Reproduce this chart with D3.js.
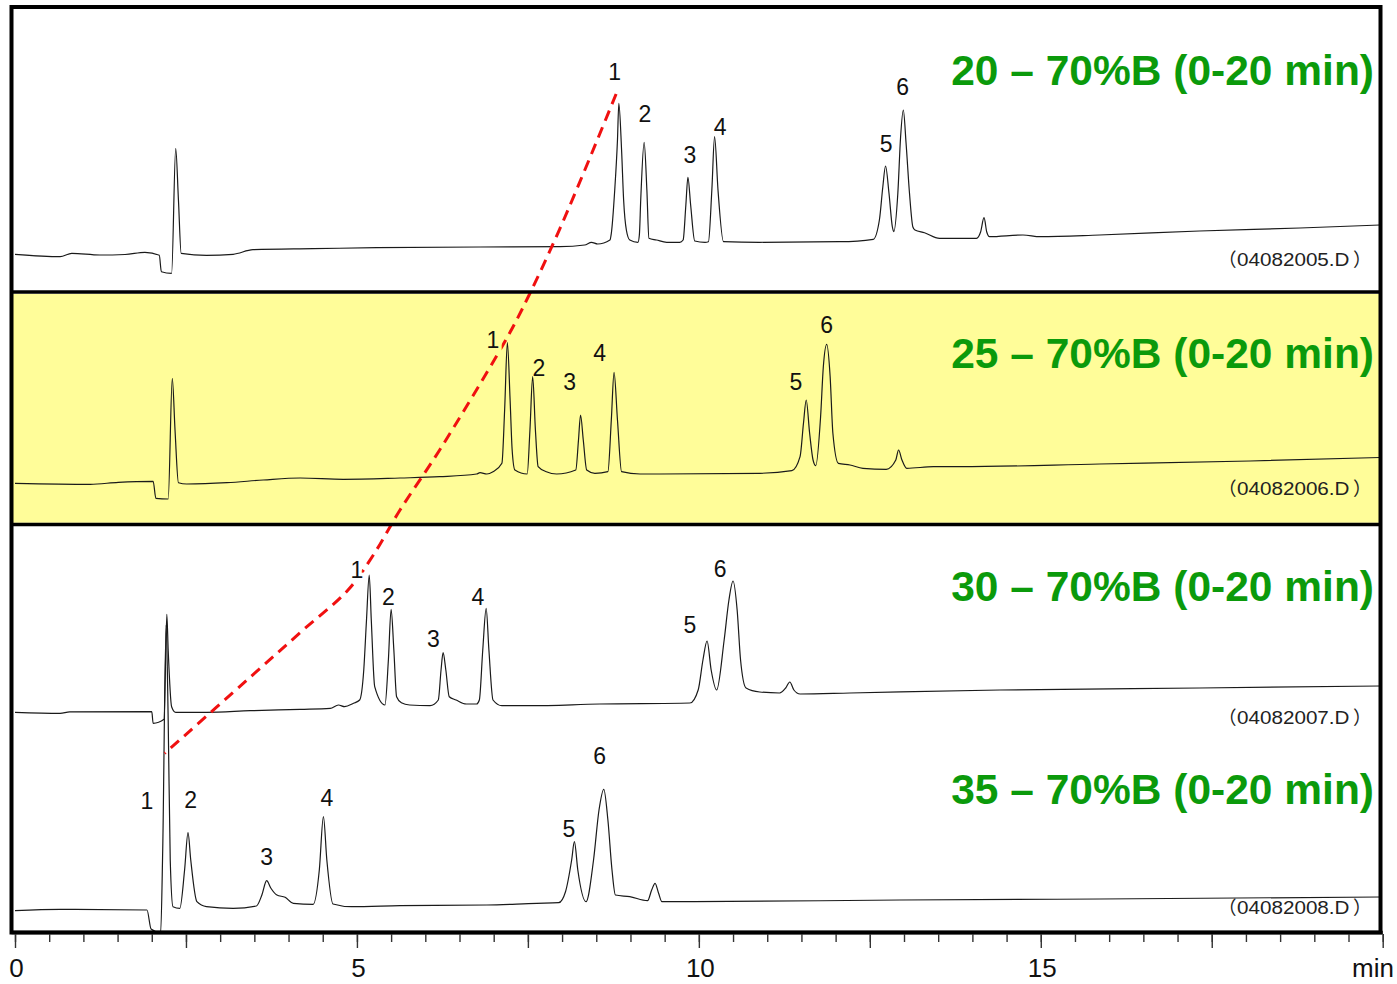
<!DOCTYPE html>
<html>
<head>
<meta charset="utf-8">
<script src="https://cdn.jsdelivr.net/npm/d3@7"></script>
<style>
  html, body { margin: 0; padding: 0; background: #fff; }
  svg { display: block; }
</style>
</head>
<body>
<svg id="chart" width="1397" height="984"></svg>
<script>
// ---- Data: four gradient runs, time (min) vs detector response ----
const gradients = ["20 – 70%B (0-20 min)", "25 – 70%B (0-20 min)", "30 – 70%B (0-20 min)", "35 – 70%B (0-20 min)"];
const dataFiles = ["（04082005.D）", "（04082006.D）", "（04082007.D）", "（04082008.D）"];

const run05 = [
  [0.00, 0.7], [0.66, -1.7], [0.83, 1.7], [1.24, 0], [1.61, 0.5], [1.90, 2.7], [2.11, -0.3],
  [2.14, -16.7], [2.29, -18.3], [2.35, 106.7], [2.39, 55], [2.43, 1.7], [2.80, -0.3], [3.19, 0.7],
  [3.48, 5.3], [4.36, 6.3], [5.29, 7.3], [6.80, 8], [7.97, 8.3], [8.33, 10], [8.43, 12.7], [8.52, 11],
  [8.70, 15], [8.72, 21.7], [8.77, 65], [8.81, 115], [8.83, 151.7], [8.87, 105], [8.90, 55], [8.94, 25],
  [8.99, 15], [9.11, 12.7], [9.13, 20], [9.15, 55], [9.20, 112.7], [9.24, 65], [9.27, 16.7], [9.38, 15],
  [9.53, 12.7], [9.72, 12.7], [9.77, 15], [9.81, 50], [9.84, 77.7], [9.88, 50], [9.94, 14], [10.09, 12.7],
  [10.14, 13.3], [10.19, 65], [10.23, 118.3], [10.28, 65], [10.36, 13.3], [10.89, 12.7], [12.06, 13.3],
  [12.55, 15.7], [12.64, 35], [12.69, 68], [12.73, 89], [12.78, 62], [12.83, 28], [12.85, 23.3],
  [12.91, 62], [12.95, 118], [12.99, 145], [13.03, 112], [13.08, 62], [13.13, 28], [13.16, 25],
  [13.30, 22.3], [13.52, 16.7], [14.06, 16.7], [14.12, 23], [14.17, 37.3], [14.21, 23], [14.25, 18.3],
  [14.74, 20], [14.99, 18.3], [15.86, 20], [17.32, 24], [18.79, 27], [19.96, 30]
];

const run06 = [
  [0.00, -0.3], [1.10, -1.3], [1.51, 0.7], [2.02, 1.7], [2.06, -15.3], [2.24, -16], [2.30, 104.7],
  [2.34, 53], [2.39, 0.3], [2.51, -1], [3.10, 0.3], [3.63, 3], [4.17, 5], [4.80, 3.7], [5.63, 5],
  [6.21, 6.3], [6.75, 9], [6.80, 10.3], [6.90, 9], [6.99, 11.3], [7.12, 19.7], [7.16, 73], [7.20, 140.3],
  [7.24, 83], [7.27, 33], [7.31, 13], [7.49, 9], [7.53, 53], [7.57, 106.3], [7.61, 53], [7.65, 16.3],
  [7.77, 11.3], [7.92, 9], [8.20, 13], [8.24, 43], [8.27, 68], [8.31, 43], [8.36, 13], [8.48, 9.7],
  [8.67, 11.3], [8.72, 63], [8.76, 110.7], [8.81, 63], [8.87, 11.3], [9.14, 9], [9.43, 9], [10.89, 9.7],
  [11.36, 12.3], [11.48, 26.3], [11.53, 59.7], [11.57, 83], [11.62, 49.7], [11.67, 23], [11.71, 17.3],
  [11.78, 66], [11.82, 116], [11.87, 138.7], [11.92, 106.3], [11.96, 49.7], [12.04, 19.7], [12.21, 18],
  [12.40, 14.7], [12.74, 13.7], [12.88, 23], [12.92, 33], [12.97, 23], [13.04, 14.7], [13.43, 16.3],
  [13.82, 16.3], [15.86, 19], [18.06, 22], [19.96, 25.5]
];

const run07 = [
  [0.00, -0.3], [0.66, -1.3], [0.80, 0.1], [2.00, 0.3], [2.02, -11.3], [2.18, -7.3], [2.22, 97.7],
  [2.24, 62], [2.29, 5.3], [2.35, -0.3], [2.80, -0.3], [3.44, 1.3], [4.17, 2.7], [4.61, 3.7], [4.73, 7],
  [4.82, 5.3], [4.95, 8.7], [5.04, 12], [5.10, 42], [5.14, 92], [5.18, 137], [5.21, 92], [5.26, 25.3],
  [5.41, 7], [5.46, 52], [5.50, 102.7], [5.54, 62], [5.58, 15.3], [5.65, 9.3], [5.77, 7], [6.07, 6.3],
  [6.19, 12], [6.23, 42], [6.26, 59.3], [6.30, 42], [6.35, 15.3], [6.45, 12], [6.60, 8], [6.75, 8],
  [6.79, 12], [6.84, 62], [6.89, 103.7], [6.93, 62], [6.99, 12], [7.12, 6.3], [7.53, 6.3], [8.55, 8],
  [9.87, 9], [9.99, 22], [10.06, 52], [10.12, 71], [10.18, 42], [10.26, 22], [10.37, 72], [10.44, 112],
  [10.50, 131], [10.56, 102], [10.61, 52], [10.69, 24], [10.89, 20], [11.18, 19], [11.27, 24],
  [11.33, 30], [11.39, 22], [11.48, 18], [12.21, 19], [14.40, 22], [17.32, 24], [19.96, 26]
];

const run08 = [
  [0.00, -0.7], [0.66, 0.7], [1.93, 0], [1.99, -19], [2.13, -22.7], [2.16, 60], [2.21, 285], [2.24, 190],
  [2.27, 50], [2.31, 3.3], [2.41, 1.7], [2.48, 40], [2.53, 77.3], [2.57, 50], [2.66, 8.3], [2.80, 3.3],
  [3.19, 1.7], [3.53, 4], [3.61, 15], [3.68, 29.3], [3.74, 22], [3.83, 15], [3.95, 12.7], [4.07, 6.7],
  [4.36, 5.7], [4.45, 40], [4.51, 93.3], [4.56, 50], [4.65, 6], [4.92, 3.3], [5.63, 4.3], [6.90, 5],
  [7.63, 6.7], [7.95, 7.3], [8.05, 18.3], [8.14, 50], [8.18, 68.3], [8.23, 40], [8.35, 8.3], [8.46, 50],
  [8.54, 100], [8.61, 120.7], [8.67, 90], [8.73, 40], [8.78, 15], [8.99, 13.3], [9.25, 9.3], [9.31, 20],
  [9.36, 26.7], [9.41, 17], [9.46, 8.3], [9.87, 8.3], [12.94, 10], [15.86, 11], [19.96, 13]
];

// Peak numbers: [label, time, response level]
const peaks05 = [["1", 8.77, 183.3], ["2", 9.21, 141.7], ["3", 9.87, 100], ["4", 10.31, 128], ["5", 12.74, 111.7], ["6", 12.98, 168.3]];
const peaks06 = [["1", 6.99, 143], ["2", 7.66, 115.7], ["3", 8.11, 101.3], ["4", 8.55, 130.3], ["5", 11.42, 101.3], ["6", 11.87, 158]];
const peaks07 = [["1", 5.00, 142.7], ["2", 5.46, 115.3], ["3", 6.12, 73.7], ["4", 6.77, 115.3], ["5", 9.87, 87], ["6", 10.31, 143]];
const peaks08 = [["1", 1.93, 109], ["2", 2.57, 110], ["3", 3.68, 53.3], ["4", 4.56, 112.7], ["5", 8.10, 81.7], ["6", 8.55, 154]];

// Stack offset of each run on the shared vertical scale
const runOffsets = [678, 450, 221, 23];

// Shift of peak 1 across the runs: [time, stacked level]
const peak1Shift = [[8.79, 839], [7.97, 704.7], [7.41, 623], [7.12, 586.3], [6.21, 483], [5.63, 423],
  [5.24, 378], [4.87, 343], [4.20, 302.2], [3.53, 261.3], [2.19, 179.7]];

// Axis ticks
const majorTicks = [0, 2.5, 5, 7.5, 10, 12.5, 15, 17.5, 20];
const minorTicks = d3.range(0, 20.01, 0.5);
const tickLabels = [["0", 0], ["5", 5], ["10", 10], ["15", 15]];
const axisUnit = "min";

// ---- Layout ----
const frame = { left: 11.5, right: 1380.5, top: 7, bottom: 932.5 };
const dividers = [292, 524.5];
const highlightBand = [294, 522.8];
const titleBaselines = [85, 368, 601, 804];
const fileBaselines = [266, 495, 724, 914];
const fileBox = { left: 1236.5, right: 1349 };
const bgColors = ["#ffffff", "#fffd99", "#ffffff", "#ffffff"];

const runs = [run05, run06, run07, run08];
const peakSets = [peaks05, peaks06, peaks07, peaks08];

const svg = d3.select("#chart");
const x = d3.scaleLinear().domain([0, 20]).range([15, 1382.7]);
const y = d3.scaleLinear().domain([0, 926]).range([933, 7]);

const font = "'Liberation Sans', Arial, sans-serif";
const cjkFont = "'Noto Sans CJK JP', sans-serif";

// Highlighted run background
svg.append("rect")
  .attr("x", frame.left).attr("y", highlightBand[0])
  .attr("width", frame.right - frame.left).attr("height", highlightBand[1] - highlightBand[0])
  .attr("fill", "#fffd99");

// Chromatogram traces
const line = d3.line()
  .x(d => x(d[0]))
  .curve(d3.curveMonotoneX);

runs.forEach((run, i) => {
  svg.append("path")
    .datum(run)
    .attr("fill", "none")
    .attr("stroke", "#1a1a1a")
    .attr("stroke-width", 1.2)
    .attr("stroke-linejoin", "round")
    .attr("d", line.y(d => y(runOffsets[i] + d[1])));
});

// Peak-1 retention shift guide
svg.append("path")
  .datum(peak1Shift)
  .attr("fill", "none")
  .attr("stroke", "#f01010")
  .attr("stroke-width", 3)
  .attr("stroke-dasharray", "11,7")
  .attr("d", d3.line().x(d => x(d[0])).y(d => y(d[1])).curve(d3.curveCatmullRom.alpha(0.5)));

// Peak numbers
peakSets.forEach((peaks, i) => {
  svg.append("g").selectAll("text")
    .data(peaks)
    .join("text")
    .attr("x", d => x(d[1]))
    .attr("y", d => y(runOffsets[i] + d[2]))
    .attr("dy", "0.36em")
    .attr("text-anchor", "middle")
    .attr("font-family", font)
    .attr("font-size", 23)
    .attr("fill", "#111")
    .attr("stroke", bgColors[i])
    .attr("stroke-width", d => d[0] === "1" ? 7 : 0)
    .attr("paint-order", "stroke")
    .text(d => d[0]);
});

// Gradient titles
svg.append("g").selectAll("text")
  .data(gradients)
  .join("text")
  .attr("x", 1374)
  .attr("y", (d, i) => titleBaselines[i])
  .attr("text-anchor", "end")
  .attr("font-family", font)
  .attr("font-weight", "bold")
  .attr("font-size", 42.5)
  .attr("fill", "#0b9a0b")
  .text(d => d);

// Data file names: full-width brackets around a widened body
dataFiles.forEach((name, i) => {
  const open = name.slice(0, 1), body = name.slice(1, -1), close = name.slice(-1);
  const g = svg.append("g")
    .attr("font-size", 18.6)
    .attr("fill", "#222");
  g.append("text")
    .attr("x", fileBox.left).attr("y", fileBaselines[i])
    .attr("text-anchor", "end")
    .attr("font-family", cjkFont)
    .text(open);
  g.append("text")
    .attr("x", fileBox.left + 0.5).attr("y", fileBaselines[i])
    .attr("font-family", font)
    .attr("textLength", fileBox.right - fileBox.left)
    .attr("lengthAdjust", "spacingAndGlyphs")
    .text(body);
  g.append("text")
    .attr("x", fileBox.right + 4).attr("y", fileBaselines[i])
    .attr("font-family", cjkFont)
    .text(close);
});

// Frame and dividers
svg.append("rect")
  .attr("x", frame.left).attr("y", frame.top)
  .attr("width", frame.right - frame.left).attr("height", frame.bottom - frame.top)
  .attr("fill", "none").attr("stroke", "#000").attr("stroke-width", 4);
dividers.forEach(dy => {
  svg.append("line")
    .attr("x1", frame.left).attr("x2", frame.right)
    .attr("y1", dy).attr("y2", dy)
    .attr("stroke", "#000").attr("stroke-width", 3.5);
});

// Time axis
const axisY = frame.bottom;
svg.append("line")
  .attr("x1", frame.left).attr("x2", x(20))
  .attr("y1", axisY).attr("y2", axisY)
  .attr("stroke", "#000").attr("stroke-width", 3.5);

const minorAxis = d3.axisBottom(x).tickValues(minorTicks).tickSize(8).tickFormat("");
const majorAxis = d3.axisBottom(x).tickValues(majorTicks).tickSize(14).tickFormat("");
[minorAxis, majorAxis].forEach(ax => {
  const g = svg.append("g").attr("transform", `translate(0,${axisY + 1.5})`).call(ax);
  g.select(".domain").remove();
  g.selectAll(".tick line").attr("stroke", "#333").attr("stroke-width", 1.4);
});

svg.append("g").selectAll("text")
  .data(tickLabels)
  .join("text")
  .attr("x", d => x(d[1]) + 1.5)
  .attr("y", 977)
  .attr("text-anchor", "middle")
  .attr("font-family", font)
  .attr("font-size", 26)
  .attr("fill", "#111")
  .text(d => d[0]);

svg.append("text")
  .attr("x", 1394).attr("y", 977)
  .attr("text-anchor", "end")
  .attr("font-family", font)
  .attr("font-size", 26)
  .attr("fill", "#111")
  .text(axisUnit);
</script>
</body>
</html>
